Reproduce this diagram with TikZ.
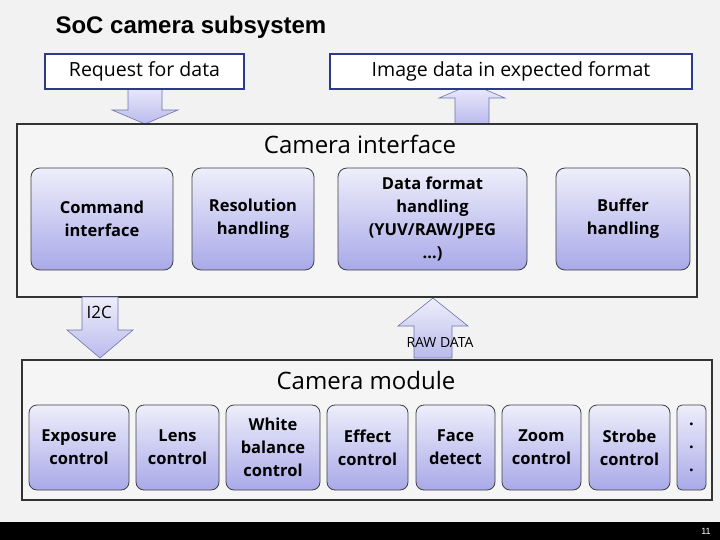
\documentclass[tikz,border=0pt]{standalone}
\usepackage{fontspec}
\setmainfont{Open Sans}
\setsansfont{Liberation Sans}
\usetikzlibrary{shapes.arrows}
\definecolor{nav}{HTML}{2E3A87}
\definecolor{lav}{HTML}{A9A9E9}
\definecolor{lavl}{HTML}{EEEEFB}
\tikzset{
 blk/.style={draw=black!75,line width=0.8pt,rounded corners=9pt,top color=lavl,bottom color=lav,align=center,font=\bfseries\fontsize{16.5}{23}\selectfont,inner sep=1pt},
 lbl/.style={draw=nav,line width=2pt,fill=white,font=\fontsize{19.5}{22}\selectfont,inner sep=2pt},
 frame/.style={draw=black!80,line width=1.3pt,fill=black!4},
 arr/.style={draw=nav!70,line width=0.6pt,top color=lavl,bottom color=lav!80},
}
\begin{document}
\begin{tikzpicture}[x=1pt,y=-1pt]
\useasboundingbox (0,0) rectangle (720,540);
\fill[black!5] (0,0) rectangle (720,540);
\fill[black] (0,522) rectangle (720,540);
\node[text=white,font=\sffamily\fontsize{9}{10}\selectfont] (pg) at (706,531) {11};
\node[anchor=west,font=\sffamily\bfseries\fontsize{24}{28}\selectfont] (title) at (52,27) {SoC camera subsystem};
\path[arr] (128,84)--(162,84)--(162,110)--(178,110)--(145,124)--(112,110)--(128,110)--cycle;
\path[arr] (455,124)--(489,124)--(489,98)--(505,98)--(472,84)--(439,98)--(455,98)--cycle;
\node[lbl,minimum width=199,minimum height=35] (req) at (144.5,71.5) {Request for data};
\node[lbl,minimum width=362,minimum height=35] (img) at (511,71.5) {Image data in expected format};
\draw[frame] (17,124) rectangle (697,297);
\node[font=\fontsize{24}{28}\selectfont] (ci) at (360,144) {Camera interface};
\node[blk,minimum width=142,minimum height=102] (cmd) at (102,219) {Command\\interface};
\node[blk,minimum width=122,minimum height=102] (res) at (253,219) {Resolution\\handling};
\node[blk,minimum width=189,minimum height=102] (fmt) at (432.5,219) {Data format\\handling\\(YUV/RAW/JPEG\\…)};
\node[blk,minimum width=134,minimum height=102] (buf) at (623,219) {Buffer\\handling};
\path[arr] (82,297)--(118,297)--(118,330)--(133,330)--(100,358)--(67,330)--(82,330)--cycle;
\path[arr] (414,358)--(452,358)--(452,326)--(468,326)--(433,298)--(398,326)--(414,326)--cycle;
\node[font=\fontsize{17}{20}\selectfont,anchor=west] (i2c) at (83,312) {I2C};
\node[font=\fontsize{14}{16}\selectfont] (raw) at (440,342) {RAW DATA};
\draw[frame] (22,360) rectangle (712,500);
\node[font=\fontsize{24}{28}\selectfont] (cm) at (366,380) {Camera module};
\tikzset{bb/.style={blk,minimum height=85,rounded corners=8pt}}
\node[bb,minimum width=100] (exp) at (79,447.5) {Exposure\\control};
\node[bb,minimum width=83] (lens) at (177.5,447.5) {Lens\\control};
\node[bb,minimum width=94] (wb) at (273,447.5) {White\\balance\\control};
\node[bb,minimum width=81] (eff) at (367.5,447.5) {Effect\\control};
\node[bb,minimum width=79] (face) at (455.5,447.5) {Face\\detect};
\node[bb,minimum width=79] (zoom) at (541.5,447.5) {Zoom\\control};
\node[bb,minimum width=81] (str) at (629.5,447.5) {Strobe\\control};
\node[bb,minimum width=29,rounded corners=5pt] (dots) at (691.5,447.5) {.\\.\\.};
\end{tikzpicture}
\end{document}
